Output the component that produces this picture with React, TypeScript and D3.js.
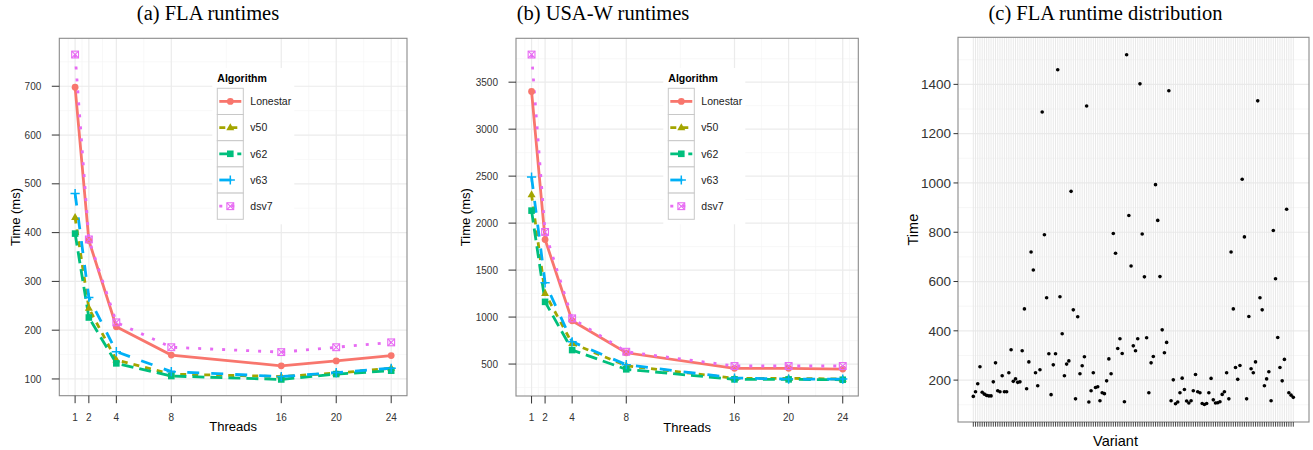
import React from "react";
import * as d3 from "d3";

// ---- data ----
const threads = [1, 2, 4, 8, 16, 20, 24];
const algorithms = ["Lonestar", "v50", "v62", "v63", "dsv7"];

const flaLonestar = [698, 384, 207, 149, 127, 137, 148];
const flaV50 = [431, 245, 139, 110, 105, 112, 122];
const flaV62 = [398, 226, 132, 106, 99, 110, 117];
const flaV63 = [480, 267, 156, 115, 105, 113, 122];
const flaDsv7 = [765, 386, 216, 165, 155, 165, 175];

const usaLonestar = [3401, 1825, 960, 620, 455, 455, 447];
const usaV50 = [2303, 1251, 720, 482, 348, 348, 340];
const usaV62 = [2133, 1162, 649, 444, 337, 337, 333];
const usaV63 = [2490, 1364, 737, 493, 351, 340, 340];
const usaDsv7 = [3794, 1906, 986, 631, 479, 479, 479];

const flaTicks = [100, 200, 300, 400, 500, 600, 700];
const usaTicks = [500, 1000, 1500, 2000, 2500, 3000, 3500];
const distTicks = [200, 400, 600, 800, 1000, 1200, 1400];

const variantTimes = [
  134, 153, 185, 254, 151, 143, 138, 136, 136, 193,
  270, 157, 153, 218, 153, 153, 230, 323, 195, 205,
  191, 193, 319, 489, 165, 274, 720, 647, 230, 177,
  242, 1288, 790, 534, 307, 141, 262, 307, 1459, 538,
  388, 218, 265, 278, 966, 485, 124, 457, 226, 258,
  295, 1312, 111, 157, 230, 170, 173, 116, 149, 145,
  197, 286, 226, 795, 715, 328, 368, 308, 112, 1520,
  868, 663, 339, 319, 368, 1402, 793, 619, 372, 149,
  270, 296, 993, 848, 620, 404, 311, 353, 1374, 116,
  201, 104, 111, 149, 208, 162, 115, 107, 116, 157,
  223, 153, 149, 105, 101, 105, 149, 207, 120, 107,
  108, 112, 142, 153, 230, 124, 720, 489, 251, 203,
  259, 1015, 781, 124, 458, 246, 230, 274, 1333, 534,
  485, 177, 205, 234, 116, 807, 611, 373, 251, 197,
  284, 893, 149, 139, 130,
];
const variants = variantTimes.map((_, i) => `variant${i + 1}`);

// ---- styling ----
const SANS = "'Liberation Sans', Arial, Helvetica, sans-serif";
const SERIF = "'Liberation Serif', 'Times New Roman', serif";
const colors = ["#F8766D", "#A3A500", "#00BF7D", "#00B0F6", "#E76BF3"];
const dashes = [undefined, "6,6", "12,6", "12,12", "3,9"];
const GRID = "#ebebeb";
const GRID_MINOR = "#f5f5f5";
const BORDER = "#8a8a8a";
const TICK = "#333";

function minorOf(b: number[]) {
  const bd = b[1] - b[0];
  const ext = [b[0] - bd, ...b, b[b.length - 1] + bd];
  return ext.slice(1).map((v, i) => (v + ext[i]) / 2);
}

const Marker = ({ k, cx, cy }: { k: number; cx: number; cy: number }) => {
  const c = colors[k];
  if (k === 0) return <circle cx={cx} cy={cy} r={3.4} fill={c} />;
  if (k === 1)
    return (
      <path
        d={`M${cx},${cy - 4.4}L${cx - 4},${cy + 2.6}L${cx + 4},${cy + 2.6}Z`}
        fill={c}
      />
    );
  if (k === 2) return <rect x={cx - 3.3} y={cy - 3.3} width={6.6} height={6.6} fill={c} />;
  if (k === 3)
    return (
      <path
        d={`M${cx - 4.6},${cy}H${cx + 4.6}M${cx},${cy - 4.6}V${cy + 4.6}`}
        stroke={c}
        strokeWidth={1.5}
      />
    );
  return (
    <g stroke={c} strokeWidth={1.1} fill="none">
      <rect x={cx - 3.4} y={cy - 3.4} width={6.8} height={6.8} />
      <path d={`M${cx - 3.4},${cy - 3.4}L${cx + 3.4},${cy + 3.4}M${cx + 3.4},${cy - 3.4}L${cx - 3.4},${cy + 3.4}`} />
    </g>
  );
};

type LineProps = {
  left: number;
  right: number;
  top: number;
  bottom: number;
  series: number[][];
  yTicks: number[];
  legendX: number;
  yTitleX: number;
};

const LinePanel = ({ left, right, top, bottom, series, yTicks, legendX, yTitleX }: LineProps) => {
  const x = d3.scaleLinear().domain([-0.15, 25.15]).range([left, right]);
  const all = series.flat();
  const mn = d3.min(all) as number;
  const mx = d3.max(all) as number;
  const pad = (mx - mn) * 0.05;
  const y = d3.scaleLinear().domain([mn - pad, mx + pad]).range([bottom, top]);
  const line = d3
    .line<number>()
    .x((_, i) => x(threads[i]))
    .y((d) => y(d));
  const xMinor = minorOf([0, ...threads]).filter((v) => v > -0.15 && v < 25.15);
  const yMinor = minorOf(yTicks).filter((v) => y(v) > top && y(v) < bottom);
  const keyH = 26.2;
  const keyTop = 88.3;
  return (
    <g fontFamily={SANS}>
      <rect x={left} y={top} width={right - left} height={bottom - top} fill="#fff" />
      {xMinor.map((v) => (
        <line key={"xm" + v} x1={x(v)} x2={x(v)} y1={top} y2={bottom} stroke={GRID_MINOR} strokeWidth={0.7} />
      ))}
      {yMinor.map((v) => (
        <line key={"ym" + v} x1={left} x2={right} y1={y(v)} y2={y(v)} stroke={GRID_MINOR} strokeWidth={0.7} />
      ))}
      {threads.map((t) => (
        <line key={"xg" + t} x1={x(t)} x2={x(t)} y1={top} y2={bottom} stroke={GRID} strokeWidth={1.2} />
      ))}
      {yTicks.map((t) => (
        <line key={"yg" + t} x1={left} x2={right} y1={y(t)} y2={y(t)} stroke={GRID} strokeWidth={1.2} />
      ))}
      {series.map((s, k) => (
        <path
          key={"l" + k}
          d={line(s) || ""}
          fill="none"
          stroke={colors[k]}
          strokeWidth={2.8}
          strokeDasharray={dashes[k]}
        />
      ))}
      {series.map((s, k) =>
        s.map((v, i) => <Marker key={`p${k}-${i}`} k={k} cx={x(threads[i])} cy={y(v)} />)
      )}
      <rect x={left} y={top} width={right - left} height={bottom - top} fill="none" stroke={BORDER} strokeWidth={1.1} />
      {/* axes */}
      {yTicks.map((t) => (
        <g key={"yt" + t}>
          <line x1={left - 7.5} x2={left} y1={y(t)} y2={y(t)} stroke={TICK} strokeWidth={1} />
          <text x={left - 18} y={y(t) + 3.6} fontSize={10} fill={TICK} textAnchor="end">
            {t}
          </text>
        </g>
      ))}
      {threads.map((t) => (
        <g key={"xt" + t}>
          <line x1={x(t)} x2={x(t)} y1={bottom} y2={bottom + 7.5} stroke={TICK} strokeWidth={1} />
          <text x={x(t)} y={bottom + 24.8} fontSize={10} fill={TICK} textAnchor="middle">
            {t}
          </text>
        </g>
      ))}
      <text x={(left + right) / 2} y={bottom + 35.5} fontSize={13} textAnchor="middle">
        Threads
      </text>
      <text
        transform={`translate(${yTitleX},${(top + bottom) / 2}) rotate(-90)`}
        fontSize={13}
        textAnchor="middle"
      >
        Time (ms)
      </text>
      {/* legend */}
      <rect x={legendX - 5} y={68} width={82} height={keyTop + keyH * 5 - 68 + 5} fill="#fff" />
      <text x={legendX} y={82} fontSize={10.5} fontWeight="bold">
        Algorithm
      </text>
      {algorithms.map((a, k) => {
        const ky = keyTop + k * keyH;
        const cy = ky + keyH / 2;
        return (
          <g key={"lg" + a}>
            <rect x={legendX} y={ky} width={26} height={keyH} fill="#fff" stroke="#c8c8c8" strokeWidth={1} />
            <line
              x1={legendX + 2}
              x2={legendX + 24}
              y1={cy}
              y2={cy}
              stroke={colors[k]}
              strokeWidth={2.8}
              strokeDasharray={dashes[k]}
            />
            <Marker k={k} cx={legendX + 13} cy={cy} />
            <text x={legendX + 33} y={cy + 3.8} fontSize={10.5} fill="#222">
              {a}
            </text>
          </g>
        );
      })}
    </g>
  );
};

const DistPanel = () => {
  const left = 958;
  const right = 1309;
  const top = 37.3;
  const bottom = 422;
  const x = d3.scalePoint<string>().domain(variants).range([left + 15.3, right - 15.7]);
  const mn = d3.min(variantTimes) as number;
  const mx = d3.max(variantTimes) as number;
  const pad = (mx - mn) * 0.05;
  const y = d3.scaleLinear().domain([mn - pad, mx + pad]).range([bottom, top]);
  const yMinor = minorOf(distTicks).filter((v) => y(v) > top && y(v) < bottom);
  return (
    <g fontFamily={SANS}>
      <rect x={left} y={top} width={right - left} height={bottom - top} fill="#fff" />
      {yMinor.map((v) => (
        <line key={"m" + v} x1={left} x2={right} y1={y(v)} y2={y(v)} stroke={GRID_MINOR} strokeWidth={0.8} />
      ))}
      {distTicks.map((t) => (
        <line key={"g" + t} x1={left} x2={right} y1={y(t)} y2={y(t)} stroke={GRID} strokeWidth={1.2} />
      ))}
      {variants.map((v) => (
        <line key={"vg" + v} x1={x(v)} x2={x(v)} y1={top} y2={bottom} stroke="#e6e6e6" strokeWidth={0.9} />
      ))}
      {variantTimes.map((t, i) => (
        <circle key={"d" + i} cx={x(variants[i])} cy={y(t)} r={1.8} fill="#000" />
      ))}
      <rect x={left} y={top} width={right - left} height={bottom - top} fill="none" stroke={BORDER} strokeWidth={1.1} />
      {variants.map((v) => (
        <line key={"vt" + v} x1={x(v)} x2={x(v)} y1={bottom} y2={bottom + 4.7} stroke={TICK} strokeWidth={0.9} />
      ))}
      {distTicks.map((t) => (
        <g key={"yt" + t}>
          <line x1={left - 4.5} x2={left} y1={y(t)} y2={y(t)} stroke={TICK} strokeWidth={1} />
          <text x={951} y={y(t) + 4.8} fontSize={13.5} fill={TICK} textAnchor="end">
            {t}
          </text>
        </g>
      ))}
      <text x={1115.5} y={446} fontSize={14.5} textAnchor="middle">
        Variant
      </text>
      <text transform={`translate(918,${(top + bottom) / 2}) rotate(-90)`} fontSize={14.5} textAnchor="middle">
        Time
      </text>
    </g>
  );
};

export default function App() {
  return (
    <svg
      width={1313}
      height={450}
      style={{ position: "absolute", left: 0, top: 0, background: "#fff" }}
    >
      <rect width={1313} height={450} fill="#fff" />
      <g fontFamily={SERIF} fontSize={20.5} textAnchor="middle">
        <text x={208} y={19.5}>(a) FLA runtimes</text>
        <text x={603} y={19.5}>(b) USA-W runtimes</text>
        <text x={1105.5} y={19.5}>(c) FLA runtime distribution</text>
      </g>
      <LinePanel
        left={59.3}
        right={407}
        top={38.3}
        bottom={395.7}
        series={[flaLonestar, flaV50, flaV62, flaV63, flaDsv7]}
        yTicks={flaTicks}
        legendX={217.3}
        yTitleX={19.5}
      />
      <LinePanel
        left={516}
        right={858.3}
        top={38.3}
        bottom={396}
        series={[usaLonestar, usaV50, usaV62, usaV63, usaDsv7]}
        yTicks={usaTicks}
        legendX={668.3}
        yTitleX={469.5}
      />
      <DistPanel />
    </svg>
  );
}
